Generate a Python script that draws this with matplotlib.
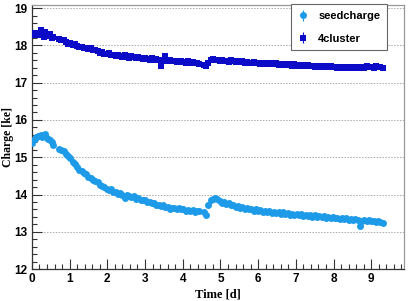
import matplotlib.pyplot as plt
from matplotlib.ticker import MultipleLocator

# measurement times [d]
time = [
    0.00, 0.04, 0.08, 0.12, 0.16, 0.20, 0.24, 0.28, 0.32, 0.36, 0.40, 0.44, 0.48, 0.52, 0.56,
    0.72, 0.78, 0.84, 0.90, 0.96, 1.02, 1.08, 1.14, 1.20, 1.26, 1.32, 1.38, 1.44, 1.50, 1.56,
    1.62, 1.68, 1.74, 1.80, 1.86, 1.92, 1.98, 2.04, 2.10, 2.16, 2.22, 2.28, 2.34, 2.40, 2.46,
    2.52, 2.58, 2.64, 2.70, 2.76, 2.82, 2.88, 2.94, 3.00, 3.06, 3.12, 3.18, 3.24, 3.30, 3.36,
    3.42, 3.48, 3.54, 3.60, 3.66, 3.72, 3.78, 3.84, 3.90, 3.96, 4.02, 4.08, 4.14, 4.20, 4.26,
    4.32, 4.38, 4.44,
    4.56, 4.62, 4.68, 4.74, 4.80, 4.86, 4.92, 4.98, 5.04, 5.10, 5.16, 5.22, 5.28, 5.34, 5.40,
    5.46, 5.52, 5.58, 5.64, 5.70, 5.76, 5.82, 5.88, 5.94, 6.00, 6.06, 6.12, 6.18, 6.24, 6.30,
    6.36, 6.42, 6.48, 6.54, 6.60, 6.66, 6.72, 6.78, 6.84, 6.90, 6.96, 7.02, 7.08, 7.14, 7.20,
    7.26, 7.32, 7.38, 7.44, 7.50, 7.56, 7.62, 7.68, 7.74, 7.80, 7.86, 7.92, 7.98, 8.04, 8.10,
    8.16, 8.22, 8.28, 8.34, 8.40, 8.46, 8.52, 8.58, 8.64, 8.70, 8.76, 8.82, 8.88, 8.94, 9.00,
    9.06, 9.12, 9.18, 9.24, 9.30,
]

seedcharge = [
    15.38, 15.45, 15.50, 15.55, 15.58, 15.56, 15.60, 15.54, 15.57, 15.62, 15.52, 15.50, 15.45, 15.40, 15.33,
    15.22, 15.20, 15.16, 15.10, 15.03, 14.97, 14.88, 14.82, 14.74, 14.66, 14.64, 14.57, 14.55, 14.47, 14.45,
    14.40, 14.36, 14.33, 14.26, 14.24, 14.19, 14.16, 14.12, 14.14, 14.06, 14.08, 14.02, 14.05, 13.98, 13.90,
    13.99, 13.96, 13.93, 13.95, 13.89, 13.90, 13.86, 13.84, 13.85, 13.80, 13.79, 13.76, 13.77, 13.73, 13.72,
    13.70, 13.72, 13.67, 13.66, 13.62, 13.65, 13.63, 13.61, 13.63, 13.60, 13.62, 13.57, 13.59, 13.55, 13.58,
    13.52, 13.56, 13.57,
    13.52, 13.46, 13.72, 13.86, 13.88, 13.92, 13.87, 13.82, 13.78, 13.80, 13.74, 13.76, 13.71, 13.72, 13.67,
    13.69, 13.64, 13.66, 13.62, 13.64, 13.60, 13.62, 13.57, 13.60, 13.56, 13.58, 13.54, 13.57, 13.53, 13.55,
    13.51, 13.54, 13.50, 13.52, 13.49, 13.52, 13.48, 13.50, 13.46, 13.49, 13.45, 13.48, 13.44, 13.47, 13.43,
    13.46, 13.42, 13.44, 13.41, 13.44, 13.40, 13.42, 13.39, 13.42, 13.38, 13.40, 13.37, 13.40, 13.36, 13.38,
    13.35, 13.37, 13.34, 13.37, 13.33, 13.35, 13.32, 13.34, 13.31, 13.16, 13.30, 13.32, 13.29, 13.31, 13.28,
    13.30, 13.26, 13.28, 13.25, 13.24,
]

cluster4 = [
    18.30, 18.28, 18.32, 18.30, 18.27, 18.33, 18.40, 18.30, 18.22, 18.35, 18.28, 18.25, 18.30, 18.20, 18.22,
    18.16, 18.14, 18.15, 18.10, 18.05, 18.06, 18.02, 18.04, 17.98, 17.95, 17.97, 17.92, 17.94, 17.90, 17.93,
    17.87, 17.88, 17.84, 17.80, 17.82, 17.78, 17.76, 17.79, 17.74, 17.75, 17.72, 17.74, 17.71, 17.70, 17.73,
    17.69, 17.66, 17.72, 17.68, 17.65, 17.69, 17.66, 17.63, 17.67, 17.64, 17.62, 17.65, 17.61, 17.63, 17.60,
    17.45, 17.59, 17.72, 17.58, 17.60, 17.57, 17.59, 17.56, 17.58, 17.57, 17.56, 17.54, 17.57, 17.53, 17.55,
    17.52, 17.54, 17.51,
    17.48, 17.45, 17.54, 17.60, 17.64, 17.62, 17.60, 17.58, 17.61, 17.57, 17.59, 17.56, 17.60, 17.57, 17.55,
    17.58, 17.55, 17.57, 17.53, 17.56, 17.54, 17.52, 17.55, 17.52, 17.54, 17.51, 17.53, 17.50, 17.53, 17.50,
    17.52, 17.49, 17.52, 17.48, 17.51, 17.48, 17.50, 17.47, 17.50, 17.46, 17.49, 17.46, 17.48, 17.45, 17.48,
    17.44, 17.47, 17.44, 17.46, 17.43, 17.46, 17.42, 17.45, 17.42, 17.44, 17.41, 17.44, 17.41, 17.43, 17.40,
    17.43, 17.40, 17.42, 17.39, 17.42, 17.40, 17.43, 17.39, 17.42, 17.40, 17.43, 17.40, 17.44, 17.41, 17.43,
    17.40, 17.44, 17.41, 17.43, 17.40,
]

seed_color = "#1d9be9"
clus_color = "#0b0bc8"
frame_color = "#666666"

fig = plt.figure(figsize=(4.09, 3.01), dpi=100)
ax = fig.add_axes([0.078, 0.106, 0.910, 0.877])

ax.errorbar(time, seedcharge, yerr=0.04, fmt="o", ms=5.0, color=seed_color,
            ecolor=seed_color, elinewidth=0.8, capsize=0, mew=0,
            label="seedcharge", zorder=3)
ax.errorbar(time, cluster4, yerr=0.04, fmt="s", ms=4.6, color=clus_color,
            ecolor=clus_color, elinewidth=0.8, capsize=0, mew=0,
            label="4cluster", zorder=3)

ax.set_xlim(0, 9.87)
ax.set_ylim(12, 19.08)

ax.xaxis.set_major_locator(MultipleLocator(1))
ax.xaxis.set_minor_locator(MultipleLocator(0.2))
ax.yaxis.set_major_locator(MultipleLocator(1))
ax.yaxis.set_minor_locator(MultipleLocator(0.2))

ax.tick_params(which="both", direction="in", color="#333333", width=0.8,
               top=False, right=False)
ax.tick_params(which="major", length=7, labelsize=8.5, pad=3)
ax.tick_params(which="minor", length=3.5)
for lab in ax.get_xticklabels() + ax.get_yticklabels():
    lab.set_fontweight("bold")
    lab.set_family("Liberation Sans")

ax.grid(axis="y", which="major", linestyle=(0, (1.5, 1.5)), color="#aaaaaa",
        linewidth=0.7)
ax.set_axisbelow(True)

for side in ["top", "right"]:
    ax.spines[side].set_color("#999999")
for side in ["left", "bottom"]:
    ax.spines[side].set_color("#333333")
for sp in ax.spines.values():
    sp.set_linewidth(0.9)

ax.set_xlabel("Time [d]", family="Liberation Serif", fontweight="bold",
              fontsize=9, labelpad=2)
ax.set_ylabel("Charge [ke]", family="Liberation Serif", fontweight="bold",
              fontsize=8.5)
ax.yaxis.set_label_coords(-0.048, 0.5)

leg = ax.legend(loc="upper right", bbox_to_anchor=(0.954, 1.003),
                prop={"family": "Liberation Sans", "weight": "bold", "size": 8},
                fancybox=False, framealpha=1, edgecolor=frame_color,
                borderpad=0.6, labelspacing=1.15, handlelength=1.0,
                handletextpad=0.9, borderaxespad=0.0)
leg.get_frame().set_linewidth(0.8)

fig.savefig("out.png", dpi=100)
